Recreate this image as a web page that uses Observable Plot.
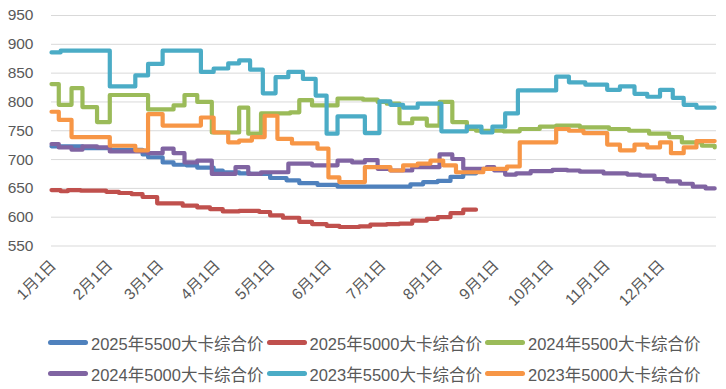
<!DOCTYPE html>
<html>
<head>
<meta charset="utf-8">
<script src="https://cdn.jsdelivr.net/npm/d3@7"></script>
<script src="https://cdn.jsdelivr.net/npm/@observablehq/plot@0.6"></script>
<style>
  html, body { margin: 0; padding: 0; background: #fff; }
  #chart { width: 726px; }
  .legend { display: grid; grid-template-columns: repeat(3, 218.5px); grid-auto-rows: 31px;
    padding-left: 48px; padding-top: 7px; height: 62px; box-sizing: content-box;
    font-family: 'Liberation Sans', 'Noto Sans CJK SC', sans-serif; font-size: 16.5px; color: #595959; }
  .item { display: flex; align-items: center; white-space: nowrap; }
  .swatch { width: 40px; height: 5px; border-radius: 3px; margin-right: 3px; flex: none; }
</style>
</head>
<body>
<div id="chart"></div>
<script>
const monthLabels = ["1月1日","2月1日","3月1日","4月1日","5月1日","6月1日","7月1日","8月1日","9月1日","10月1日","11月1日","12月1日"];
const yTicks = [550, 600, 650, 700, 750, 800, 850, 900, 950];
const seriesNames = ["2025年5500大卡综合价","2025年5000大卡综合价","2024年5500大卡综合价","2024年5000大卡综合价","2023年5500大卡综合价","2023年5000大卡综合价"];
const seriesColors = ["#4F81BD","#C0504D","#9BBB59","#8064A2","#4BACC6","#F79646"];

const s2025_5500 = [["01-01",723],["01-18",720],["02-02",717],["02-20",709],["02-23",704],["03-03",695],["03-09",691],["03-16",690],["03-22",686],["03-31",681],["04-05",678],["04-14",676],["04-20",675],["05-01",668],["05-10",664],["05-17",659],["05-27",656],["06-07",653],["07-06",653],["07-17",657],["07-24",661],["08-01",663],["08-08",670],["08-15",676],["08-22",678]];
const s2025_5000 = [["01-01",647],["01-06",645],["01-10",647],["01-17",646],["01-31",644],["02-07",642],["02-14",640],["02-20",635],["02-28",624],["03-14",620],["03-22",617],["03-29",614],["04-05",610],["04-14",611],["04-25",609],["05-01",603],["05-08",599],["05-17",592],["05-24",588],["06-01",585],["06-08",583],["06-19",584],["06-25",587],["07-04",588],["07-11",589],["07-18",594],["07-26",597],["08-01",600],["08-08",607],["08-15",613],["08-22",613]];
const s2024_5500 = [["01-01",831],["01-05",795],["01-12",824],["01-18",791],["01-26",765],["02-02",812],["02-23",787],["03-09",794],["03-15",812],["03-22",800],["03-30",747],["04-14",790],["04-19",745],["04-26",780],["05-12",782],["05-17",803],["05-24",794],["06-07",806],["06-21",804],["06-29",800],["07-04",797],["07-11",763],["07-18",771],["07-26",759],["08-02",800],["08-09",765],["08-17",753],["08-22",750],["09-06",749],["09-15",753],["09-26",757],["10-05",759],["10-18",756],["11-03",753],["11-14",750],["11-25",745],["12-06",739],["12-13",730],["12-24",724],["12-31",721]];
const s2024_5000 = [["01-01",727],["01-05",721],["01-12",717],["01-18",723],["01-26",721],["02-02",714],["02-23",711],["03-03",719],["03-09",711],["03-15",695],["03-22",698],["03-30",675],["04-12",687],["04-19",675],["04-26",678],["05-11",693],["05-24",690],["06-07",698],["06-15",695],["06-22",699],["06-29",684],["07-06",681],["07-18",687],["08-02",709],["08-09",701],["08-15",684],["08-28",687],["09-01",681],["09-07",674],["09-13",676],["09-21",680],["10-03",682],["10-11",681],["10-18",679],["10-31",676],["11-13",674],["11-20",672],["11-28",666],["12-05",662],["12-12",658],["12-19",653],["12-26",650],["12-31",650]];
const s2023_5500 = [["01-01",886],["01-06",889],["02-02",827],["02-16",846],["02-23",866],["03-03",889],["03-24",852],["03-31",858],["04-08",867],["04-14",872],["04-20",856],["04-27",815],["05-04",843],["05-11",852],["05-19",840],["05-26",811],["06-01",745],["06-07",775],["06-22",746],["06-30",801],["07-06",795],["07-13",790],["07-21",797],["08-03",749],["08-17",757],["08-25",747],["08-31",757],["09-07",780],["09-14",820],["10-05",844],["10-12",834],["10-21",830],["11-02",821],["11-09",827],["11-17",814],["11-24",809],["12-01",821],["12-08",807],["12-14",795],["12-21",790],["12-31",790]];
const s2023_5000 = [["01-01",783],["01-05",769],["01-12",739],["02-02",724],["02-16",716],["02-23",779],["03-03",759],["03-24",773],["03-31",747],["04-08",730],["04-14",733],["04-21",739],["04-28",776],["05-05",736],["05-13",728],["05-27",719],["06-02",669],["06-08",661],["06-22",687],["07-06",681],["07-13",690],["07-21",693],["07-28",698],["08-04",690],["08-11",678],["08-26",684],["09-08",688],["09-15",730],["10-05",753],["10-12",750],["10-20",746],["11-02",726],["11-09",716],["11-17",726],["11-24",721],["12-01",730],["12-07",711],["12-14",721],["12-21",732],["12-31",732]];

const allSeries = [s2025_5500, s2025_5000, s2024_5500, s2024_5000, s2023_5500, s2023_5000];
const toDate = s => { const [m, d] = s.split("-").map(Number); return new Date(Date.UTC(2023, m - 1, d)); };
const monthTicks = d3.utcMonths(new Date(Date.UTC(2023,0,1)), new Date(Date.UTC(2024,0,1)));

const lines = allSeries.map((arr, i) =>
  Plot.line(arr.map(([d, v]) => ({date: toDate(d), value: v})), {
    x: "date", y: "value", stroke: seriesColors[i], strokeWidth: 4.2,
    curve: "step-after", strokeLinejoin: "round", strokeLinecap: "round"
  })
);

const chart = Plot.plot({
  width: 726, height: 320,
  marginLeft: 51, marginRight: 10, marginTop: 15, marginBottom: 74.5,
  style: {fontFamily: "'Liberation Sans','Noto Sans CJK SC',sans-serif", fontSize: "14px", color: "#595959", background: "#fff"},
  x: {type: "utc", domain: [new Date(Date.UTC(2023,0,1)), new Date(Date.UTC(2024,0,1))], label: null},
  y: {domain: [550, 950], label: null},
  marks: [
    Plot.gridY(yTicks, {stroke: "#d9d9d9", strokeOpacity: 1, strokeWidth: 1}),
    Plot.axisY(yTicks, {tickSize: 0, tickPadding: 18, fontSize: 15.5, fill: "#595959"}),
    Plot.axisX(monthTicks, {tickSize: 0, tickPadding: 17, tickRotate: -45, fontSize: 15.5, fill: "#595959", dx: 2,
      tickFormat: d => monthLabels[d.getUTCMonth()]}),
    ...lines
  ]
});
document.getElementById("chart").appendChild(chart);

const legend = document.createElement("div");
legend.className = "legend";
seriesNames.forEach((name, i) => {
  const it = document.createElement("div");
  it.className = "item";
  const sw = document.createElement("span");
  sw.className = "swatch";
  sw.style.background = seriesColors[i];
  const tx = document.createElement("span");
  tx.textContent = name;
  it.appendChild(sw); it.appendChild(tx);
  legend.appendChild(it);
});
document.getElementById("chart").appendChild(legend);
</script>
</body>
</html>
